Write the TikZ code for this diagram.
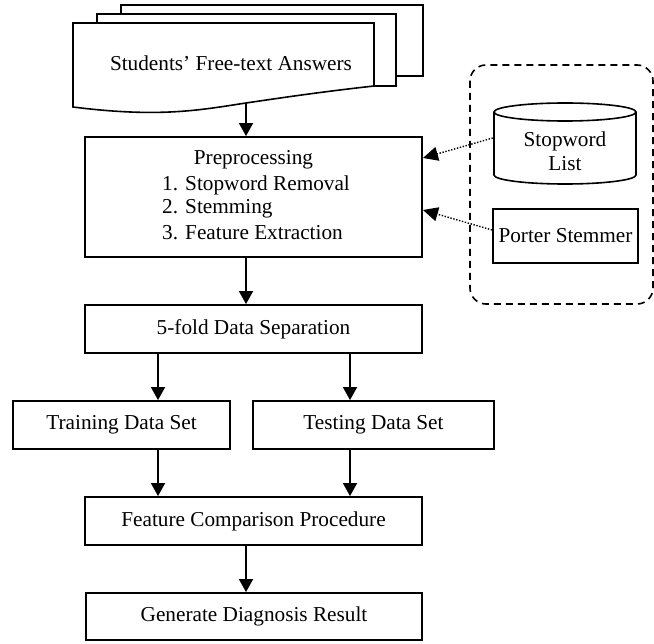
\documentclass[tikz,border=0pt]{standalone}
\usepackage{fontspec}
\setmainfont{Liberation Serif}
\usetikzlibrary{arrows.meta,calc}
\begin{document}
\begin{tikzpicture}[x=1pt,y=-1pt,
  font=\fontsize{21.25}{24.5}\selectfont,
  box/.style={draw,line width=1.9pt,fill=white,inner sep=0pt,align=center},
  doc/.style={draw,line width=1.6pt,fill=white},
  arr/.style={line width=1.6pt,-{Triangle[width=14pt,length=13pt]}},
  dotarr/.style={line width=1.4pt,dash pattern=on 1.4pt off 1.6pt,-{Triangle[width=14pt,length=15pt]}},
  lbl/.style={inner sep=0pt}]
\useasboundingbox (0,0) rectangle (654,644);
% dashed group
\draw[line width=1.6pt,dash pattern=on 7pt off 5pt,rounded corners=16pt] (470,65) rectangle (653,304);
% stacked documents
\draw[doc] (121,5) rectangle (423,76);
\draw[doc] (97,14) rectangle (396,86);
\draw[doc] (73,23) -- (374,23) -- (374,86)
  .. controls (320,92) and (280,98) .. (246,103)
  .. controls (200,110) and (160,118) .. (73,107) -- cycle;
\node[lbl] (docs) at (231,63) {Students’ Free-text Answers};
\coordinate (docb) at (246,103);
% main flow boxes
\node[box,minimum width=337pt,minimum height=120pt] (pre) at (253.5,197) {};
\node[lbl] (p0) at (253.5,160) {Preprocessing};
\node[lbl,anchor=west] (p1) at (162,185) {1. Stopword Removal};
\node[lbl,anchor=west] (p2) at (162,209) {2. Stemming};
\node[lbl,anchor=west] (p3) at (162,233) {3. Feature Extraction};
\node[box,minimum width=337pt,minimum height=48pt] (sep) at (253.5,329) {5-fold Data Separation};
\node[box,minimum width=217pt,minimum height=48pt] (train) at (121.5,425) {Training Data Set};
\node[box,minimum width=241pt,minimum height=48pt] (test) at (373.5,425) {Testing Data Set};
\node[box,minimum width=337pt,minimum height=48pt] (feat) at (253.5,521) {Feature Comparison Procedure};
\node[box,minimum width=336pt,minimum height=47pt] (gen) at (254,616.5) {Generate Diagnosis Result};
% side tools
\draw[line width=1.6pt,fill=white] (494,112) -- (494,175) arc[start angle=180,end angle=0,x radius=71,y radius=9] -- (636,112);
\draw[line width=1.6pt] (565,112) ellipse[x radius=71,y radius=9];
\node[lbl,minimum width=142pt,minimum height=72pt,align=center] (swl) at (565,151) {Stopword\\List};
\node[box,minimum width=145pt,minimum height=54pt] (porter) at (565.5,236) {Porter Stemmer};
% x positions for split arrows
\coordinate (xl) at (158,0);
\coordinate (xr) at (350,0);
\coordinate (xm) at (246,0);
% connectors
\draw[arr] (docb) -- (docb |- pre.north);
\draw[arr] (pre.south -| xm) -- (sep.north -| xm);
\draw[arr] (sep.south -| xl) -- (train.north -| xl);
\draw[arr] (sep.south -| xr) -- (test.north -| xr);
\draw[arr] (train.south -| xl) -- (feat.north -| xl);
\draw[arr] (test.south -| xr) -- (feat.north -| xr);
\draw[arr] (feat.south -| xm) -- (gen.north -| xm);
\draw[dotarr] ([xshift=-1pt,yshift=13pt]swl.west) -- ([yshift=39pt]pre.east);
\draw[dotarr] ([yshift=6pt]porter.west) -- ([yshift=-13pt]pre.east);
\end{tikzpicture}
\end{document}
